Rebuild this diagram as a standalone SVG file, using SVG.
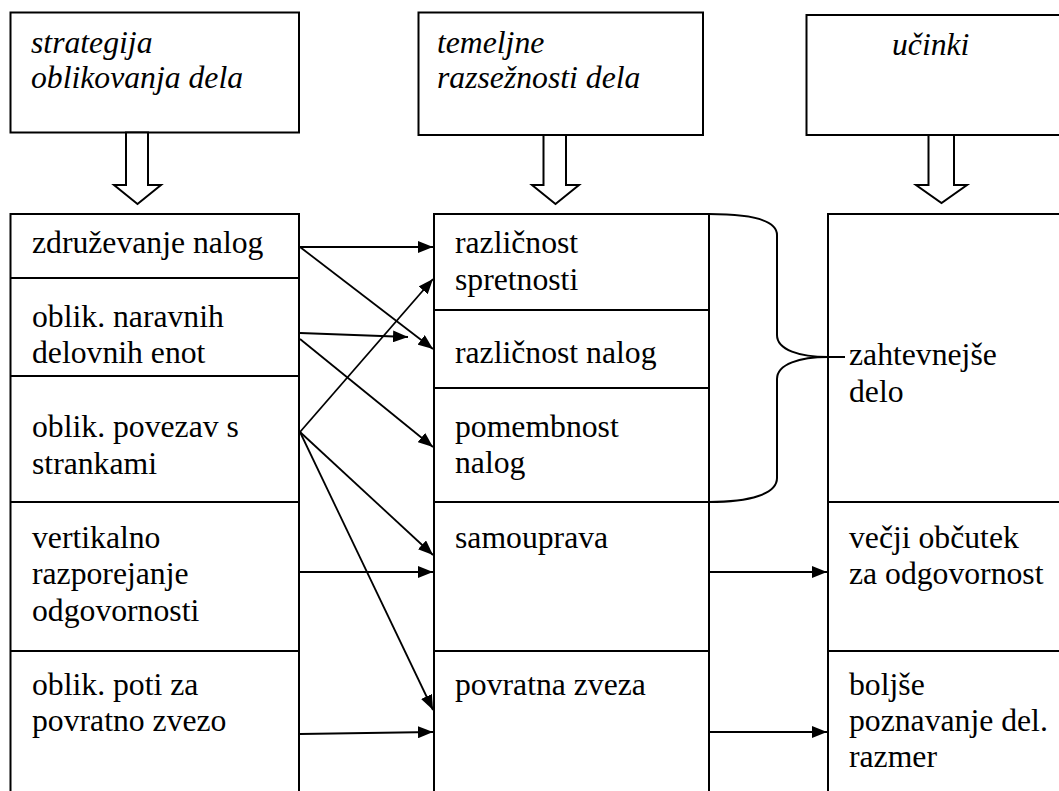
<svg xmlns="http://www.w3.org/2000/svg" width="1059" height="791" viewBox="0 0 1059 791">
<style>
.box{fill:#fff;stroke:#000;stroke-width:2}
.div{stroke:#000;stroke-width:2}
.t{font-family:"Liberation Serif","Times New Roman",serif;font-size:31.7px;fill:#000}
.it{font-style:italic}
.con{stroke:#000;stroke-width:1.8;fill:none;marker-end:url(#ah)}
.hollow{fill:#fff;stroke:#000;stroke-width:2;stroke-linejoin:miter}
</style>
<defs>
<marker id="ah" markerWidth="16" markerHeight="12" refX="15" refY="6" orient="auto" markerUnits="userSpaceOnUse">
<path d="M0,0 L15,6 L0,12 Z" fill="#000"/>
</marker>
</defs>
<rect width="1059" height="791" fill="#fff"/>

<g id="header1">
<rect class="box" x="10.5" y="12.5" width="288.5" height="120"/>
<text class="t it" x="31" y="53">strategija</text>
<text class="t it" x="31" y="88">oblikovanja dela</text>
</g>
<g id="header2">
<rect class="box" x="418.5" y="12.5" width="284.5" height="122.5"/>
<text class="t it" x="437" y="53">temeljne</text>
<text class="t it" x="437" y="88">razsežnosti dela</text>
</g>
<g id="header3">
<rect class="box" x="806.5" y="15" width="260" height="120"/>
<text class="t it" x="892" y="55">učinki</text>
</g>

<g id="hollow-arrows">
<path class="hollow" d="M126,132.5 L148,132.5 L148,185 L161,185 L137.5,204 L114,185 L126,185 Z"/>
<path class="hollow" d="M543.5,135 L566,135 L566,185 L579,185 L555.5,204 L532,185 L543.5,185 Z"/>
<path class="hollow" d="M928.5,135 L954,135 L954,185 L967,185 L941.5,203 L916,185 L928.5,185 Z"/>
</g>

<g id="left-column">
<rect class="box" x="10.5" y="214" width="288.5" height="600"/>
<line class="div" x1="10.5" y1="278" x2="299" y2="278"/>
<line class="div" x1="10.5" y1="376" x2="299" y2="376"/>
<line class="div" x1="10.5" y1="502" x2="299" y2="502"/>
<line class="div" x1="10.5" y1="651" x2="299" y2="651"/>
</g>
<g id="l1"><text class="t" x="32" y="253">združevanje nalog</text></g>
<g id="l2"><text class="t" x="32" y="327">oblik. naravnih</text><text class="t" x="32" y="363">delovnih enot</text></g>
<g id="l3"><text class="t" x="32" y="437">oblik. povezav s</text><text class="t" x="32" y="474">strankami</text></g>
<g id="l4"><text class="t" x="32" y="548">vertikalno</text><text class="t" x="32" y="584">razporejanje</text><text class="t" x="32" y="621">odgovornosti</text></g>
<g id="l5"><text class="t" x="32" y="695">oblik. poti za</text><text class="t" x="32" y="731">povratno zvezo</text></g>

<g id="middle-column">
<rect class="box" x="434" y="214" width="275" height="600"/>
<line class="div" x1="434" y1="310" x2="709" y2="310"/>
<line class="div" x1="434" y1="388" x2="709" y2="388"/>
<line class="div" x1="434" y1="502" x2="709" y2="502"/>
<line class="div" x1="434" y1="651" x2="709" y2="651"/>
</g>
<g id="m1"><text class="t" x="455" y="253">različnost</text><text class="t" x="455" y="290">spretnosti</text></g>
<g id="m2"><text class="t" x="455" y="363">različnost nalog</text></g>
<g id="m3"><text class="t" x="455" y="437">pomembnost</text><text class="t" x="455" y="473">nalog</text></g>
<g id="m4"><text class="t" x="455" y="548">samouprava</text></g>
<g id="m5"><text class="t" x="455" y="695">povratna zveza</text></g>

<g id="right-column">
<rect class="box" x="828" y="214" width="260" height="600"/>
<line class="div" x1="828" y1="502" x2="1064" y2="502"/>
<line class="div" x1="828" y1="651" x2="1064" y2="651"/>
</g>
<g id="r1"><text class="t" x="849" y="365">zahtevnejše</text><text class="t" x="849" y="402">delo</text></g>
<g id="r2"><text class="t" x="849" y="548">večji občutek</text><text class="t" x="849" y="584">za odgovornost</text></g>
<g id="r3"><text class="t" x="849" y="695">boljše</text><text class="t" x="849" y="731">poznavanje del.</text><text class="t" x="849" y="767">razmer</text></g>

<g id="connectors">
<line class="con" x1="300" y1="247" x2="433" y2="247"/>
<line class="con" x1="300" y1="247" x2="433" y2="349"/>
<line class="con" x1="300" y1="333" x2="408" y2="337"/>
<line class="con" x1="300" y1="339" x2="433" y2="447"/>
<line class="con" x1="300" y1="432" x2="433" y2="279"/>
<line class="con" x1="300" y1="432" x2="433" y2="555"/>
<line class="con" x1="300" y1="432" x2="433" y2="710"/>
<line class="con" x1="300" y1="572" x2="433" y2="572"/>
<line class="con" x1="300" y1="734" x2="433" y2="732"/>
<line class="con" x1="710" y1="572" x2="827" y2="572"/>
<line class="con" x1="710" y1="732" x2="827" y2="732"/>
<path d="M709,214 C750,214 777,220 777,235 L777,335 C777,350 800,357 828,357 C800,357 777,364 777,379 L777,478 C777,494 750,502 709,502" fill="none" stroke="#000" stroke-width="2"/>
<line x1="828" y1="357" x2="845" y2="357" stroke="#000" stroke-width="2"/>
</g>
</svg>
